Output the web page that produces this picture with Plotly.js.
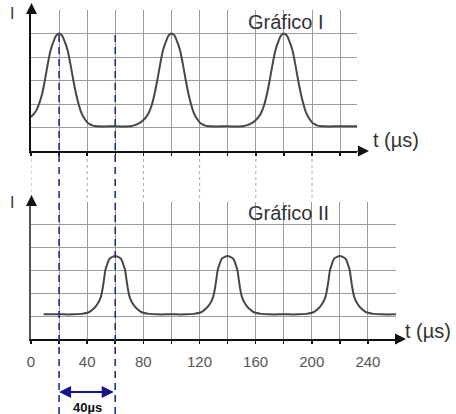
<!DOCTYPE html>
<html>
<head>
<meta charset="utf-8">
<script src="https://cdn.plot.ly/plotly-3.0.1.min.js"></script>
<style>html,body{margin:0;padding:0;background:#fff;}</style>
</head>
<body>
<div id="chart" style="width:456px;height:414px;"></div>
<script>
// ---- Data ----
// Gráfico I : current I versus time t (µs)
var topT = [0,2,4,6,8,10,12,14,16,18,20,22,24,26,28,30,32,34,36,38,40,42,44,46,48,60,
  70,72,74,76,78,80,82,84,86,88,90,92,94,96,98,100,102,104,106,108,110,112,114,116,118,120,122,124,126,128,140,
  150,152,154,156,158,160,162,164,166,168,170,172,174,176,178,180,182,184,186,188,190,192,194,196,198,200,202,204,206,208,220,236];
var topI = [1.45,1.58,1.75,2.05,2.45,3.05,3.72,4.3,4.65,4.92,5.0,4.92,4.65,4.3,3.72,3.05,2.45,1.97,1.6,1.38,1.22,1.13,1.08,1.06,1.05,1.05,
  1.05,1.07,1.1,1.15,1.22,1.32,1.45,1.65,1.97,2.45,3.05,3.72,4.3,4.65,4.92,5.0,4.92,4.65,4.3,3.72,3.05,2.45,1.97,1.6,1.38,1.22,1.13,1.08,1.06,1.05,1.05,
  1.05,1.07,1.1,1.15,1.22,1.32,1.45,1.65,1.97,2.45,3.05,3.72,4.3,4.65,4.92,5.0,4.92,4.65,4.3,3.72,3.05,2.45,1.97,1.6,1.38,1.22,1.13,1.08,1.06,1.05,1.05,1.05];

// Gráfico II
var botT = [9,20,
  30,36,40,42,44,46,48,49,50,51,52,53,54,55,56,58,60,62,64,65,66,67,68,69,70,71,72,74,76,78,80,84,90,
  100,
  110,116,120,122,124,126,128,129,130,131,132,133,134,135,136,138,140,142,144,145,146,147,148,149,150,151,152,154,156,158,160,164,170,
  180,
  190,196,200,202,204,206,208,209,210,211,212,213,214,215,216,218,220,222,224,225,226,227,228,229,230,231,232,234,236,238,240,244,250,
  260];
var botI = [1.08,1.08,
  1.08,1.1,1.15,1.2,1.3,1.42,1.6,1.72,1.9,2.2,2.6,3.02,3.22,3.4,3.52,3.6,3.63,3.6,3.52,3.4,3.22,3.02,2.6,2.2,1.9,1.72,1.6,1.42,1.3,1.2,1.15,1.1,1.08,
  1.08,
  1.08,1.1,1.15,1.2,1.3,1.42,1.6,1.72,1.9,2.2,2.6,3.02,3.22,3.4,3.52,3.6,3.63,3.6,3.52,3.4,3.22,3.02,2.6,2.2,1.9,1.72,1.6,1.42,1.3,1.2,1.15,1.1,1.08,
  1.08,
  1.08,1.1,1.15,1.2,1.3,1.42,1.6,1.72,1.9,2.2,2.6,3.02,3.22,3.4,3.52,3.6,3.63,3.6,3.52,3.4,3.22,3.02,2.6,2.2,1.9,1.72,1.6,1.42,1.3,1.2,1.15,1.1,1.08,
  1.08];

var tickVals = [0,20,40,60,80,100,120,140,160,180,200,220,240,260];
var tickText = ['0','','40','','80','','120','','160','','200','','240',''];
var connectorT = [0,40,80,120,160,200];   // dotted links between the two graphs
var markT = [20,60];                       // dashed markers (peak of I, peak of II)
var deltaLabel = '40\u00b5s';
var titles = ['Gr\u00e1fico I','Gr\u00e1fico II'];
var axisLabel = 't (\u00b5s)';
var yLabel = 'I';

// ---- helpers (pixel -> paper, margins are 0) ----
var W = 456, H = 414;
function px(x){return x/W;}
function py(y){return 1 - y/H;}

var FONT = 'Liberation Sans, Arial, sans-serif';
var gridC = '#9c9c9c';

var traces = [
  {x: topT, y: topI, xaxis:'x', yaxis:'y', mode:'lines',
   line:{color:'#474747', width:2, shape:'spline', smoothing:1}, hoverinfo:'skip'},
  {x: botT, y: botI, xaxis:'x2', yaxis:'y2', mode:'lines',
   line:{color:'#474747', width:2, shape:'spline', smoothing:1}, hoverinfo:'skip'}
];

var shapes = [];
connectorT.forEach(function(t){
  shapes.push({type:'line', xref:'x', yref:'paper', x0:t, x1:t, y0:py(153), y1:py(198),
    line:{color:'#aaaaaa', width:1, dash:'dot'}, layer:'below'});
});
markT.forEach(function(t){
  shapes.push({type:'line', xref:'x2', yref:'paper', x0:t, x1:t, y0:0, y1:py(33),
    line:{color:'#1f2f96', width:1.6, dash:'7px,5px'}});
});

function arrowAnn(xTip, yTip, axp, ayp, col, w){
  return {xref:'paper', yref:'paper', x:px(xTip), y:py(yTip), ax:axp, ay:ayp,
    axref:'pixel', ayref:'pixel', text:'', showarrow:true, arrowhead:2, arrowsize:1.1,
    arrowwidth:w, arrowcolor:col};
}

var annotations = [
  arrowAnn(31.5, 3, 0, 9, '#111', 2),
  arrowAnn(369, 151, -13, 0, '#111', 2),
  arrowAnn(31.5, 195, 0, 9, '#111', 2),
  arrowAnn(406, 339, -12, 0, '#111', 2),
  {xref:'paper', yref:'paper', x:px(286), y:py(22), text:titles[0], showarrow:false,
   font:{family:FONT, size:20, color:'#333'}, xanchor:'center', yanchor:'middle'},
  {xref:'paper', yref:'paper', x:px(288), y:py(213), text:titles[1], showarrow:false,
   font:{family:FONT, size:20, color:'#333'}, xanchor:'center', yanchor:'middle'},
  {xref:'paper', yref:'paper', x:px(371), y:py(140), text:axisLabel, showarrow:false,
   font:{family:FONT, size:20, color:'#333'}, xanchor:'left', yanchor:'middle'},
  {xref:'paper', yref:'paper', x:px(403), y:py(331), text:axisLabel, showarrow:false,
   font:{family:FONT, size:20, color:'#333'}, xanchor:'left', yanchor:'middle'},
  {xref:'paper', yref:'paper', x:px(12), y:py(13), text:yLabel, showarrow:false,
   font:{family:FONT, size:16, color:'#333'}, xanchor:'center', yanchor:'middle'},
  {xref:'paper', yref:'paper', x:px(12), y:py(203), text:yLabel, showarrow:false,
   font:{family:FONT, size:16, color:'#333'}, xanchor:'center', yanchor:'middle'},
  // 40 µs double arrow
  {xref:'x2', yref:'paper', x:markT[0], y:py(392), axref:'x2', ax:markT[1], ayref:'pixel', ay:0,
   text:'', showarrow:true, arrowhead:2, startarrowhead:2, arrowside:'end+start', arrowsize:1.2,
   startarrowsize:1.2, arrowwidth:2, arrowcolor:'#14148a'},
  {xref:'x2', yref:'paper', x:(markT[0]+markT[1])/2, y:py(407), text:'<b>'+deltaLabel+'</b>', showarrow:false,
   font:{family:FONT, size:13, color:'#111'}, xanchor:'center', yanchor:'middle'}
];

var layout = {
  width:W, height:H, margin:{l:0,r:0,t:0,b:0,pad:0},
  paper_bgcolor:'#fff', plot_bgcolor:'#fff', showlegend:false,
  xaxis:{domain:[px(31), px(357)], range:[0,232], anchor:'y', dtick:20, tick0:0,
    showgrid:true, gridcolor:gridC, gridwidth:1, zeroline:false,
    showline:true, linecolor:'#111', linewidth:2, ticks:'outside', ticklen:3, tickwidth:1.5, tickcolor:'#111',
    showticklabels:false, fixedrange:true},
  yaxis:{domain:[py(151), py(10)], range:[0,6], anchor:'x', dtick:1, tick0:0,
    showgrid:true, gridcolor:gridC, gridwidth:1, zeroline:false,
    showline:true, linecolor:'#111', linewidth:2, ticks:'', showticklabels:false, fixedrange:true},
  xaxis2:{domain:[px(31), px(396)], range:[0,260], anchor:'y2',
    showgrid:true, gridcolor:gridC, gridwidth:1, zeroline:false,
    showline:true, linecolor:'#111', linewidth:2, ticks:'outside', ticklen:3, tickwidth:1.5, tickcolor:'#111',
    tickmode:'array', tickvals:tickVals, ticktext:tickText,
    showticklabels:true, tickfont:{family:FONT, size:15, color:'#555'}, ticklabelstandoff:5, fixedrange:true},
  yaxis2:{domain:[py(339), py(202)], range:[0,6], anchor:'x2', dtick:1, tick0:0,
    showgrid:true, gridcolor:gridC, gridwidth:1, zeroline:false,
    showline:true, linecolor:'#555', linewidth:2.5, ticks:'', showticklabels:false, fixedrange:true},
  shapes:shapes, annotations:annotations
};

Plotly.newPlot('chart', traces, layout, {staticPlot:true, displayModeBar:false});
</script>
</body>
</html>
